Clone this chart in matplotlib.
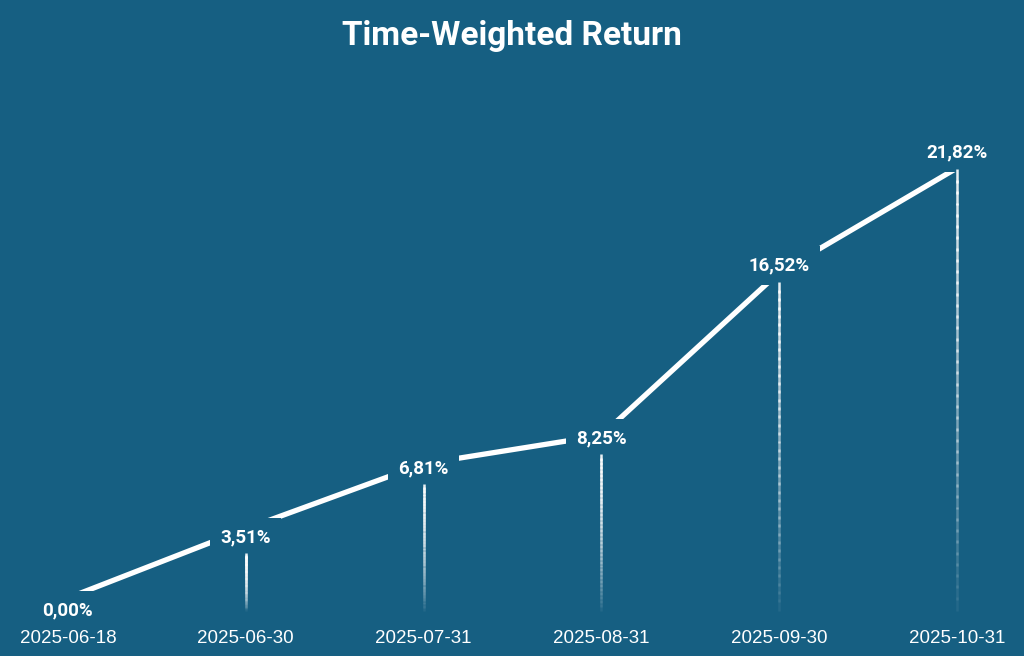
import matplotlib
matplotlib.use('Agg')
import matplotlib.pyplot as plt
import numpy as np
from matplotlib.collections import LineCollection

dates = ['2025-06-18', '2025-06-30', '2025-07-31', '2025-08-31', '2025-09-30', '2025-10-31']
twr = [0.00, 3.51, 6.81, 8.25, 16.52, 21.82]

bg = '#165f82'
label_off = [-9, -6, -3, -2, 5, 11]  # points, label shift from the point

fig = plt.figure(figsize=(10.24, 6.56), dpi=100, facecolor=bg)
ax = fig.add_axes([0, 0.0625, 1, 0.785])
ax.set_facecolor(bg)
ax.set_xlim(-0.382, 5.377)
ax.set_ylim(-0.862, 25.27)
x = np.arange(len(dates))

ax.plot(x, twr, color='white', lw=3.8, solid_capstyle='butt', zorder=2)

# data units per pixel in y
upp = (25.27 + 0.862) / (0.785 * 656)

# fading drop lines under each label
for xi, yi, off in zip(x, twr, label_off):
    if yi <= 0:
        continue
    top = yi + (off * 100 / 72 - 16) * upp
    bottom = -0.5
    ys = np.linspace(top, bottom, 40)
    segs = [[(xi, ys[i]), (xi, ys[i + 1] - 0.15)] for i in range(len(ys) - 1)]
    alphas = np.linspace(1, 0.05, len(segs)) ** 0.9
    cols = [(1, 1, 1, a * 0.9) for a in alphas]
    ax.add_collection(LineCollection(segs, colors=cols, linewidths=1.8, zorder=4))

# value labels (background box hides the line around them)
for xi, yi, off in zip(x, twr, label_off):
    ax.annotate(f'{yi:.2f}%'.replace('.', ','), (xi, yi), xytext=(0, off),
                textcoords='offset points', ha='center', va='center',
                color='white', fontsize=13.5, fontweight='bold', family='Roboto',
                zorder=3, bbox=dict(boxstyle='square,pad=0.55', fc=bg, ec='none'))

ax.set_xticks(x)
ax.set_xticklabels(dates, color='white', fontsize=13.5, family='Liberation Sans')
ax.tick_params(axis='x', length=0, pad=11)
ax.set_yticks([])
for s in ax.spines.values():
    s.set_visible(False)

fig.text(0.5, 1 - 36 / 656, 'Time-Weighted Return', ha='center', va='center',
         color='white', fontsize=24, fontweight='bold', family='Roboto')

fig.savefig('out.png', dpi=100, facecolor=bg)
